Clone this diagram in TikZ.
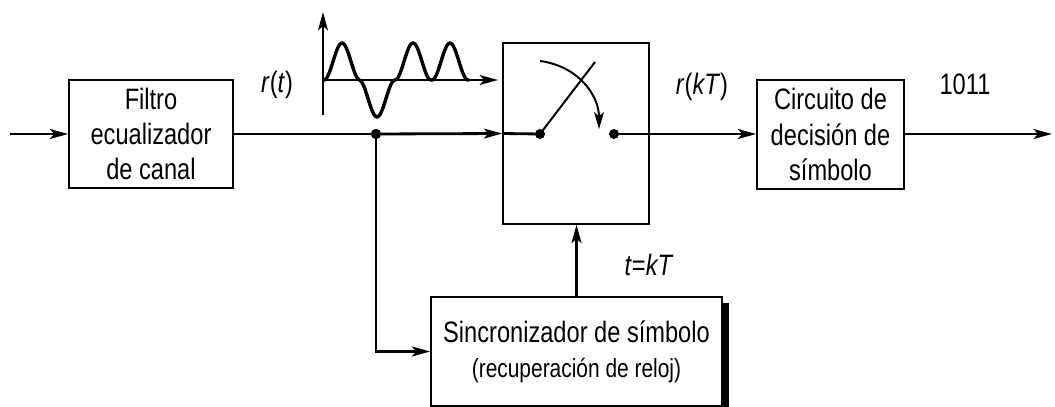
\documentclass[tikz,border=0pt]{standalone}
\usepackage{fontspec}
\setmainfont[FakeStretch=0.8]{Liberation Sans}
\usetikzlibrary{arrows.meta}

\begin{document}
\begin{tikzpicture}[x=0.025cm, y=-0.025cm,
  blk/.style={draw, line width=1pt, inner sep=0pt, align=center, font=\fontsize{21}{25}\selectfont},
  sig/.style={line width=2pt, -{Stealth[length=13pt, width=7pt, inset=3pt]}},
  wire/.style={line width=2pt},
  lbl/.style={font=\fontsize{21}{24}\selectfont, inner sep=0pt},
  declare function={pul(\t)=(abs(\t)<18)*cos(5*\t)^2;}]
  \useasboundingbox (0,0) rectangle (1055,407);

  % blocks
  \node[blk, minimum width=4.1cm, minimum height=2.7cm] (filt) at (151,134) {Filtro\\ecualizador\\de canal};
  \node[blk, minimum width=3.65cm, minimum height=4.525cm] (sw) at (576,133.5) {};
  \node[blk, minimum width=3.675cm, minimum height=2.725cm] (dec) at (830.5,134.5) {Circuito de\\decisión de\\símbolo};
  \node[blk, minimum width=7.275cm, minimum height=2.725cm, font=\fontsize{21}{25}\selectfont] (sync) at (576.5,351.5)
    {Sincronizador de símbolo\\{\fontsize{18.6}{25}\selectfont (recuperación de reloj)}};
  \fill ([yshift=-0.175cm]sync.north east) rectangle ([xshift=0.15cm, yshift=-0.175cm]sync.south east);

  % switch
  \coordinate (c1) at (540,134);
  \coordinate (c2) at (614,134);
  \coordinate (bl) at (595,62);
  \coordinate (ar1) at (540,61);
  \coordinate (ar2) at (599,129);
  \draw[line width=1.4pt] (c1) -- (bl);
  \draw[line width=1.4pt, -{Stealth[length=12pt, width=7pt, inset=3pt]}] (ar1) .. controls (578,66) and (599,95) .. (ar2);
  \fill (c1) circle (0.125cm);
  \fill (c2) circle (0.125cm);

  % connections
  \coordinate (in) at (10,134);
  \coordinate (jn) at (376,134);
  \coordinate (out) at (1052,134);
  \draw[sig] (in) -- (filt.west);
  \draw[line width=1pt] (filt.east) -- (jn);
  \draw[sig] (jn) -- (sw.west);
  \draw[wire] (sw.west) -- (c1);
  \draw[sig] (c2) -- (dec.west |- c2);
  \draw[sig] (dec.east |- c2) -- (out);
  \draw[sig] (jn) |- (sync.west);
  \draw[sig] (sync.north) -- (sync.north |- sw.south);
  \fill (jn) circle (0.13cm);

  % waveform
  \coordinate (o) at (323,80);
  \draw[sig, line width=1.6pt] (323,115) -- (323,12);
  \draw[sig, line width=1.6pt] (o) -- (498,80);
  \draw[line width=2.4pt, line join=round] plot[domain=323:469, samples=147]
    (\x, {80 - 37*(pul(\x-342) - pul(\x-377) + pul(\x-413) + pul(\x-450))});

  % labels
  \node[lbl] (rt) at (277,85) {\textit{r}(\textit{t})};
  \node[lbl] (rkt) at (702,87) {\textit{r}(\textit{kT})};
  \node[lbl] (bits) at (965,84) {1011};
  \node[lbl] (tkt) at (649,265) {\textit{t}=\textit{kT}};
\end{tikzpicture}
\end{document}
